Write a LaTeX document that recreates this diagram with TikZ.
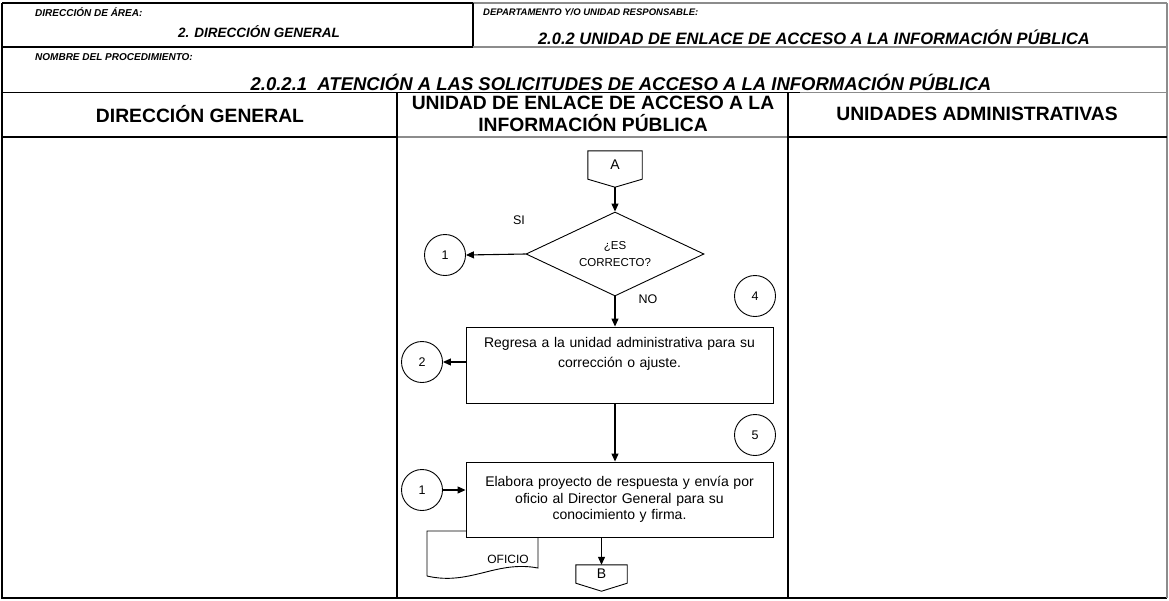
\documentclass[tikz,border=0pt]{standalone}
\usepackage{fontspec}
\setmainfont{Liberation Sans}
\usetikzlibrary{shapes.geometric,arrows.meta,calc}
\definecolor{scangray}{gray}{0.55}
\tikzset{
  smalltag/.style={font=\fontsize{10}{11}\selectfont\bfseries\itshape, anchor=west, inner sep=0},
  boxtitle/.style={font=\fontsize{16.5}{17}\selectfont\bfseries\itshape, inner sep=0},
  lanetitle/.style={font=\fontsize{19.3}{22}\selectfont\bfseries, align=center, inner sep=0},
  proc/.style={draw, fill=white, line width=0.9pt, minimum width=307pt, minimum height=76pt, text width=300pt, align=center, inner sep=0},
  decision/.style={diamond, draw, fill=white, line width=0.9pt, aspect=2.1, minimum width=178pt, minimum height=84pt, inner sep=0, align=center, font=\fontsize{11.5}{16.5}\selectfont},
  stepno/.style={circle, draw, line width=0.9pt, minimum size=41pt, inner sep=0, font=\fontsize{12.5}{14}\selectfont},
  offpage/.style={minimum width=54pt, minimum height=28pt, inner sep=0, font=\fontsize{14}{15}\selectfont},
  flowlbl/.style={font=\fontsize{12.5}{14}\selectfont, inner sep=0},
}
\begin{document}
\begin{tikzpicture}[x=1pt,y=-1pt,>={Triangle[length=8pt,width=7pt]}]
    \useasboundingbox (0,0) rectangle (1169,600);
    % form frame
    \draw [line width=1.3pt] (2,3) -- (2,598) -- (1167,598);
    \draw [line width=1.3pt] (2,3) -- (473,3);
    \draw [line width=1.3pt,scangray] (473,3) -- (1167,3);
    \draw [line width=1.3pt,scangray] (1167,3) -- (1167,598);
    \draw [line width=1.2pt] (473,3) -- (473,47);
    \draw [line width=1.2pt] (2,47) -- (473,47);
    \draw [line width=1.2pt,scangray] (473,47) -- (1167,47);
    \draw [line width=0.9pt] (2,92) -- (800,92);
    \draw [line width=0.9pt,scangray] (800,92) -- (1167,92);
    \draw [line width=1.1pt] (2,137) -- (397,137);
    \draw [line width=1.1pt,scangray] (397,137) -- (788,137);
    \draw [line width=1.1pt] (788,137) -- (1167,137);
    \draw [line width=1.1pt] (397,92) -- (397,598);
    \draw [line width=1.1pt] (788,92) -- (788,598);
    % header texts
    \node [smalltag] (areatag) at (35,12) {DIRECCIÓN DE ÁREA:};
    \node [boxtitle, font=\fontsize{13.5}{15}\selectfont\bfseries\itshape] (area) at (259,32) {2. DIRECCIÓN GENERAL};
    \node [smalltag, font=\fontsize{9.5}{11}\selectfont\bfseries\itshape] (deptotag) at (483,12) {DEPARTAMENTO Y/O UNIDAD RESPONSABLE:};
    \node [boxtitle] (depto) at (814,37) {2.0.2 UNIDAD DE ENLACE DE ACCESO A LA INFORMACIÓN PÚBLICA};
    \node [smalltag] (proctag) at (35,57) {NOMBRE DEL PROCEDIMIENTO:};
    \node [boxtitle, font=\fontsize{18.5}{20}\selectfont\bfseries\itshape] (proced) at (621,82) {2.0.2.1\ \ ATENCIÓN A LAS SOLICITUDES DE ACCESO A LA INFORMACIÓN PÚBLICA};
    \node [lanetitle] (laneDG) at (200,114) {DIRECCIÓN GENERAL};
    \node [lanetitle] (laneUE) at (593,114) {UNIDAD DE ENLACE DE ACCESO A LA\\INFORMACIÓN PÚBLICA};
    \node [lanetitle] (laneUA) at (977,114) {UNIDADES ADMINISTRATIVAS};
    % flow
    \node [offpage] (conA) at (615,165) {A};
    \draw [line width=0.9pt] (conA.north west) -- (conA.north east) -- (conA.south east)
      -- ($(conA.south)+(0,8)$) coordinate (conAtip) -- (conA.south west) -- cycle;
    \node [decision] (dec) at (615,254) {¿ES\\CORRECTO?};
    \node [stepno] (c1a) at (445,255) {1};
    \node [flowlbl] (si) at (519,220) {SI};
    \node [flowlbl] (no) at (648,299) {NO};
    \node [stepno] (c4) at (755,296) {4};
    \node [proc, font=\fontsize{14}{20}\selectfont, text depth=45pt] (regresa) at (619.5,365)
      {Regresa a la unidad administrativa para su\\corrección o ajuste.};
    \node [stepno] (c2) at (422,362) {2};
    \node [stepno] (c5) at (755,435) {5};
    \draw [line width=0.9pt, fill=white] (427,576) -- (427,531) -- (538,531) -- (538,568)
      .. controls (496,560) and (470,586) .. (427,576);
    \node [flowlbl, font=\fontsize{12}{13}\selectfont] (oficio) at (508,559) {OFICIO};
    \node [proc, font=\fontsize{14}{16.5}\selectfont, minimum height=75pt] (elabora) at (619.5,499.5)
      {Elabora proyecto de respuesta y envía por\\oficio al Director General para su\\conocimiento y firma.};
    \node [stepno] (c1b) at (422,490) {1};
    \node [offpage, minimum width=51pt, minimum height=18pt] (conB) at (601.5,574) {B};
    \draw [line width=0.9pt] (conB.north west) -- (conB.north east) -- (conB.south east)
      -- ($(conB.south)+(0,8)$) -- (conB.south west) -- cycle;
    \draw [->, line width=1.1pt] (conAtip) -- (dec.north);
    \draw [->, line width=1.1pt] (dec.west) -- (c1a.east);
    \draw [->, line width=1.1pt] (dec.south) -- (dec.south |- regresa.north);
    \draw [->, line width=1.1pt] (regresa.west |- c2) -- (c2.east);
    \draw [->, line width=1.1pt] (dec.south |- regresa.south) -- (dec.south |- elabora.north);
    \draw [->, line width=1.1pt] (c1b.east) -- (c1b -| elabora.west);
    \draw [->, line width=1.1pt] (conB.north |- elabora.south) -- (conB.north);
\end{tikzpicture}
\end{document}
